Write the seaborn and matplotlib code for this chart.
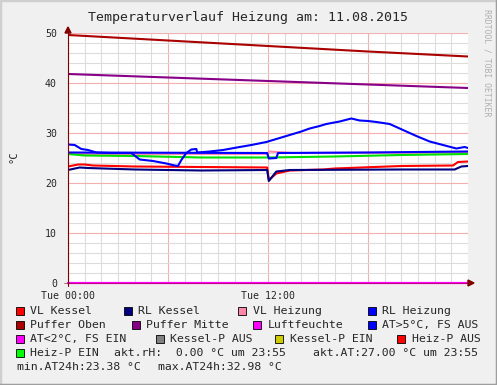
import matplotlib as mpl
import matplotlib.pyplot as plt
import seaborn as sns
from matplotlib.lines import Line2D
from matplotlib.patches import Rectangle, Polygon

sns.set_style('white')
mpl.rcParams['font.family'] = ['DejaVu Sans Mono']

W, H = 497, 385

# --- data (hours since Tue 00:00, temperature in degC) ---
puffer_oben_h = [0, 6, 12, 18, 24]
puffer_oben_t = [49.6, 48.5, 47.4, 46.3, 45.3]

puffer_mitte_h = [0, 6, 12, 18, 24]
puffer_mitte_t = [41.8, 41.1, 40.4, 39.7, 39.0]

vl_kessel_h = [0, 0.6, 1.0, 1.5, 4, 8, 11.95, 12.05, 12.5, 13.3, 15.3, 16, 20, 23.1, 23.4, 24]
vl_kessel_t = [23.3, 23.7, 23.7, 23.5, 23.3, 23.2, 23.1, 20.6, 21.9, 22.5, 22.7, 22.9, 23.4, 23.5, 24.2, 24.3]

rl_kessel_h = [0, 0.7, 1.2, 4, 8, 11.95, 12.05, 12.5, 13.3, 20, 23.2, 23.6, 24]
rl_kessel_t = [22.6, 23.1, 23.0, 22.7, 22.5, 22.6, 20.4, 22.3, 22.6, 22.7, 22.7, 23.3, 23.4]

vl_heizung_h = [0, 12, 12.05, 13.5, 24]
vl_heizung_t = [25.8, 25.8, 26.3, 26.0, 26.1]

rl_heizung_h = [0, 6, 11.95, 12.05, 12.5, 12.6, 18, 24]
rl_heizung_t = [26.1, 26.05, 26.0, 24.9, 25.0, 26.0, 26.1, 26.3]

heizp_ein_h = [0, 1, 4, 8, 12, 16, 20, 24]
heizp_ein_t = [25.8, 25.5, 25.4, 25.1, 25.1, 25.3, 25.6, 25.8]

luftfeuchte_h = [0, 24]
luftfeuchte_v = [0, 0]

at_h = [0, 0.4, 0.8, 1.2, 1.7, 2.5, 3.8, 4.3, 5.1, 5.9, 6.4, 6.6, 6.8, 7.1, 7.4,
        7.7, 7.75, 8.5, 9.3, 10.3, 11.0, 11.9, 12.6, 13.3, 14.0, 14.5, 15.1, 15.5,
        16.3, 17.0, 17.5, 18.0, 18.5, 19.3, 20.1, 20.9, 21.7, 22.5, 23.3, 23.8, 24.0]
at_t = [27.7, 27.6, 26.8, 26.6, 26.1, 26.0, 26.0, 24.7, 24.4, 23.9, 23.5, 23.4, 24.6, 26.0, 26.7,
        26.8, 26.1, 26.3, 26.6, 27.2, 27.6, 28.2, 28.9, 29.6, 30.3, 30.9, 31.4, 31.8,
        32.3, 32.9, 32.5, 32.4, 32.2, 31.8, 30.6, 29.4, 28.3, 27.6, 26.9, 27.2, 27.0]

x_tick_pos = [0, 6, 12, 18]
x_tick_labels = ['Tue 00:00', '', 'Tue 12:00', '']
y_ticks = [0, 10, 20, 30, 40, 50]

legend_rows = [
    [('VL Kessel', '#ff0000'), ('RL Kessel', '#000080'), ('VL Heizung', '#ff88aa'), ('RL Heizung', '#0000ff')],
    [('Puffer Oben', '#aa0000'), ('Puffer Mitte', '#880088'), ('Luftfeuchte', '#ff00ff'), ('AT>5°C, FS AUS', '#0000ff')],
    [('AT<2°C, FS EIN', '#ff00ff'), ('Kessel-P AUS', '#808080'), ('Kessel-P EIN', '#cccc00'), ('Heiz-P AUS', '#ff0000')],
    [('Heiz-P EIN', '#00ff00')],
]
akt_rh = 'akt.rH:  0.00 °C um 23:55'
akt_at = 'akt.AT:27.00 °C um 23:55'
min_at = 'min.AT24h:23.38 °C'
max_at = 'max.AT24h:32.98 °C'


def fx(x):
    return x / W


def fy(y):
    return 1 - y / H


fig = plt.figure(figsize=(W / 100, H / 100), dpi=100, facecolor='#f0f0f0')
ax = fig.add_axes([fx(68), fy(283), 400 / W, 250 / H], facecolor='white')

ax.set_xlim(0, 24)
ax.set_ylim(0, 50)
for s in ax.spines.values():
    s.set_visible(False)

ax.set_xticks(x_tick_pos)
ax.set_xticklabels(x_tick_labels)
ax.set_xticks(range(0, 25), minor=True)
ax.set_yticks(y_ticks)
ax.set_yticks(range(0, 51, 2), minor=True)
ax.tick_params(which='both', length=0)
ax.tick_params(axis='y', pad=8, labelsize=7.1)
ax.tick_params(axis='x', pad=6, labelsize=7.1)
ax.grid(which='minor', color='#dcdcdc', lw=0.8)
ax.grid(which='major', color='#f2b0b0', lw=0.8)
ax.set_axisbelow(True)

series = [
    (vl_kessel_h, vl_kessel_t, '#ff0000'),
    (rl_kessel_h, rl_kessel_t, '#000080'),
    (vl_heizung_h, vl_heizung_t, '#ff88aa'),
    (heizp_ein_h, heizp_ein_t, '#00e000'),
    (rl_heizung_h, rl_heizung_t, '#0000ff'),
    (puffer_oben_h, puffer_oben_t, '#aa0000'),
    (puffer_mitte_h, puffer_mitte_t, '#880088'),
    (at_h, at_t, '#0000ff'),
]
for xs, ys, c in series:
    sns.lineplot(x=xs, y=ys, ax=ax, color=c, linewidth=1.5, estimator=None)
sns.lineplot(x=luftfeuchte_h, y=luftfeuchte_v, ax=ax, color='#ff00ff',
             linewidth=1.6, estimator=None).lines[-1].set_clip_on(False)

# axes with arrows
ac = '#800000'
fig.add_artist(Line2D([fx(68), fx(68)], [fy(286), fy(31)], color=ac, lw=0.8))
fig.add_artist(Line2D([fx(64), fx(470)], [fy(283), fy(283)], color=ac, lw=0.6, alpha=0.6))
fig.add_artist(Polygon([(fx(65), fy(33)), (fx(71), fy(33)), (fx(68), fy(27))],
                       closed=True, color=ac, transform=fig.transFigure))
fig.add_artist(Polygon([(fx(468), fy(280)), (fx(468), fy(286)), (fx(474), fy(283))],
                       closed=True, color=ac, transform=fig.transFigure))

# title, y label, watermark
fig.text(fx(248), fy(17), 'Temperaturverlauf Heizung am: 11.08.2015',
         ha='center', va='center', fontsize=9.5)
fig.text(fx(14), fy(157), '°C', rotation=90, ha='center', va='center', fontsize=7.5)
fig.text(fx(487), fy(63), 'RRDTOOL / TOBI OETIKER', rotation=-90,
         ha='center', va='center', fontsize=5.9, color='#b0b0b0')

# legend
fs = 8.25
box_x = [[16, 124, 238, 368], [16, 132, 253, 368], [16, 156, 275, 397], [16]]
row_y = [311, 325, 339, 353, 367]
for r, row in enumerate(legend_rows):
    for (label, color), bx in zip(row, box_x[r]):
        y = row_y[r]
        fig.add_artist(Rectangle((fx(bx), fy(y + 4)), 8 / W, 8 / H, transform=fig.transFigure,
                                 facecolor=color, edgecolor='black', lw=0.6))
        fig.text(fx(bx + 14.5), fy(y), label, ha='left', va='center', fontsize=fs)
fig.text(fx(114), fy(row_y[3]), akt_rh, ha='left', va='center', fontsize=fs)
fig.text(fx(313), fy(row_y[3]), akt_at, ha='left', va='center', fontsize=fs)
fig.text(fx(17), fy(row_y[4]), min_at, ha='left', va='center', fontsize=fs)
fig.text(fx(158), fy(row_y[4]), max_at, ha='left', va='center', fontsize=fs)

# image frame (shading)
fig.add_artist(Line2D([0, 0, 1], [0, 1, 1], color='#cfcfcf', lw=2.5, transform=fig.transFigure))
fig.add_artist(Line2D([0, 1, 1], [0, 0, 1], color='#9e9e9e', lw=2.5, transform=fig.transFigure))

fig.savefig('out.png', dpi=100, facecolor=fig.get_facecolor())
